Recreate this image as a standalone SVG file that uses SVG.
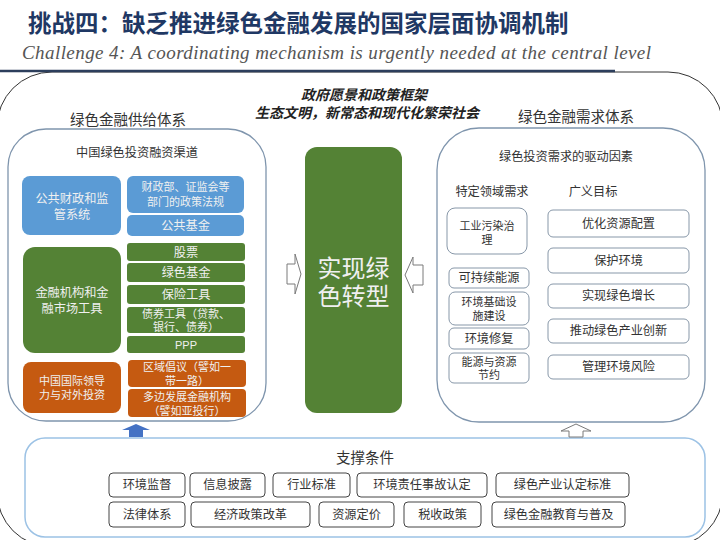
<svg xmlns="http://www.w3.org/2000/svg" width="720" height="540" viewBox="0 0 720 540">
<style>
text{font-family:"Liberation Sans","Noto Sans CJK SC",sans-serif;text-anchor:middle}
.title{font-size:23.5px;font-weight:bold;fill:#1f3864;text-anchor:start}
.sub{font-family:"Liberation Serif",serif;font-style:italic;font-size:19px;fill:#555;text-anchor:start}
.hdr{font-size:14.5px;fill:#333}
.vis{font-size:14px;font-weight:bold;font-style:italic;fill:#222}
.t{font-size:12.2px;fill:#333}
.w{font-size:12.2px;fill:#f0f0f0}
.t2{font-size:11px;fill:#333}
.w2{font-size:11px;fill:#f0f0f0}
.big{font-size:24px;fill:#f0f0f0}
.cont{fill:#fff;stroke:#7f95ad;stroke-width:1.3}
.blue{fill:#5b9bd5}
.green{fill:#548235}
.orange{fill:#c55a11}
.wb{fill:#fff;stroke:#8797a8;stroke-width:1}
.bb{fill:#fff;stroke:#444;stroke-width:1}
.harrow{fill:#fff;stroke:#7a7a7a;stroke-width:1}
</style>

<rect x="-3" y="72" width="726" height="475" rx="55" fill="none" stroke="#333" stroke-width="1"/>
<line x1="0" y1="71" x2="615" y2="71" stroke="#2c3e5c" stroke-width="2.5"/>

<text class="title" x="28" y="32">挑战四：缺乏推进绿色金融发展的国家层面协调机制</text>
<text class="sub" x="22" y="59" textLength="629">Challenge 4: A coordinating mechanism is urgently needed at the central level</text>

<g id="vision">
<text class="vis" x="364" y="100">政府愿景和政策框架</text>
<text class="vis" x="367" y="118">生态文明，新常态和现代化繁荣社会</text>
</g>

<g id="supply">
<text class="hdr" x="128" y="125">绿色金融供给体系</text>
<rect class="cont" x="8" y="129" width="258" height="292" rx="38"/>
<text class="t" x="137" y="157">中国绿色投资融资渠道</text>
<g id="public-finance">
<rect class="blue" x="22" y="176" width="99" height="59" rx="8"/>
<text class="w" x="72" y="202.5">公共财政和监</text>
<text class="w" x="72" y="218.5">管系统</text>
</g>
<g id="policy">
<rect class="blue" x="127" y="176" width="117" height="37" rx="6"/>
<text class="w2" x="185.5" y="191">财政部、证监会等</text>
<text class="w2" x="185.5" y="206">部门的政策法规</text>
</g>
<g id="public-fund">
<rect class="blue" x="127" y="215" width="117" height="21" rx="5"/>
<text class="w" x="185.5" y="230">公共基金</text>
</g>
<g id="fin-inst">
<rect class="green" x="23" y="247" width="98" height="106" rx="12"/>
<text class="w" x="72" y="297">金融机构和金</text>
<text class="w" x="72" y="313">融市场工具</text>
</g>
<g id="stock">
<rect class="green" x="127" y="243" width="118" height="18" rx="3"/>
<text class="w" x="186" y="256.5">股票</text>
</g>
<g id="green-fund">
<rect class="green" x="127" y="263" width="118" height="19" rx="3"/>
<text class="w" x="186" y="277">绿色基金</text>
</g>
<g id="insurance">
<rect class="green" x="127" y="285" width="118" height="19" rx="3"/>
<text class="w" x="186" y="299">保险工具</text>
</g>
<g id="bond">
<rect class="green" x="127" y="307" width="118" height="26" rx="3"/>
<text class="w2" x="186" y="318">债券工具（贷款、</text>
<text class="w2" x="186" y="331">银行、债券）</text>
</g>
<g id="ppp">
<rect class="green" x="127" y="336" width="118" height="17" rx="3"/>
<text class="w" x="186" y="349" style="font-size:11px">PPP</text>
</g>
<g id="intl">
<rect class="orange" x="23" y="362" width="98" height="51" rx="8"/>
<text class="w2" x="72" y="385">中国国际领导</text>
<text class="w2" x="72" y="399">力与对外投资</text>
</g>
<g id="regional">
<rect class="orange" x="128" y="360" width="118" height="27" rx="4"/>
<text class="w2" x="187" y="371">区域倡议（譬如一</text>
<text class="w2" x="187" y="385">带一路）</text>
</g>
<g id="mdb">
<rect class="orange" x="128" y="389" width="118" height="28" rx="4"/>
<text class="w2" x="187" y="401">多边发展金融机构</text>
<text class="w2" x="187" y="415">（譬如亚投行）</text>
</g>
</g>

<g id="transition">
<rect class="green" x="305" y="147" width="97" height="266" rx="12"/>
<text class="big" x="353.5" y="277">实现绿</text>
<text class="big" x="353.5" y="305">色转型</text>
</g>

<g id="demand">
<text class="hdr" x="576" y="122">绿色金融需求体系</text>
<rect class="cont" x="437" y="128" width="268" height="294" rx="42"/>
<text class="t" x="566" y="161">绿色投资需求的驱动因素</text>
<text class="t" x="492" y="196">特定领域需求</text>
<text class="t" x="593" y="196">广义目标</text>
<g id="industrial">
<rect class="wb" x="447" y="208" width="80" height="46" rx="8"/>
<text class="t2" x="487" y="230">工业污染治</text>
<text class="t2" x="487" y="244">理</text>
</g>
<g id="energy">
<rect class="wb" x="449" y="268" width="80" height="20" rx="5"/>
<text class="t" x="489" y="282">可持续能源</text>
</g>
<g id="infra">
<rect class="wb" x="449" y="292" width="80" height="33" rx="6"/>
<text class="t2" x="489" y="306">环境基础设</text>
<text class="t2" x="489" y="320">施建设</text>
</g>
<g id="restore">
<rect class="wb" x="449" y="328" width="80" height="21" rx="5"/>
<text class="t" x="489" y="342.5">环境修复</text>
</g>
<g id="saving">
<rect class="wb" x="449" y="353" width="80" height="30" rx="5"/>
<text class="t2" x="489" y="366">能源与资源</text>
<text class="t2" x="489" y="379">节约</text>
</g>
<g id="allocation">
<rect class="wb" x="548" y="210" width="141" height="27" rx="5"/>
<text class="t" x="618.5" y="227.5">优化资源配置</text>
</g>
<g id="protect">
<rect class="wb" x="548" y="248" width="141" height="25" rx="5"/>
<text class="t" x="618.5" y="264.5">保护环境</text>
</g>
<g id="growth">
<rect class="wb" x="548" y="284" width="141" height="24" rx="5"/>
<text class="t" x="618.5" y="300">实现绿色增长</text>
</g>
<g id="innovation">
<rect class="wb" x="548" y="319" width="141" height="24" rx="5"/>
<text class="t" x="618.5" y="335">推动绿色产业创新</text>
</g>
<g id="risk">
<rect class="wb" x="548" y="355" width="141" height="24" rx="5"/>
<text class="t" x="618.5" y="371">管理环境风险</text>
</g>
</g>

<g id="support">
<rect x="25" y="438" width="680" height="99" rx="20" fill="#fff" stroke="#9cc2e5" stroke-width="1.5"/>
<text class="hdr" x="365" y="463">支撑条件</text>
<g id="s1"><rect class="bb" x="109" y="473" width="76" height="24" rx="4"/><text class="t" x="147" y="489">环境监督</text></g>
<g id="s2"><rect class="bb" x="190" y="473" width="75" height="24" rx="4"/><text class="t" x="227.5" y="489">信息披露</text></g>
<g id="s3"><rect class="bb" x="273" y="473" width="77" height="24" rx="4"/><text class="t" x="311.5" y="489">行业标准</text></g>
<g id="s4"><rect class="bb" x="357" y="473" width="130" height="24" rx="4"/><text class="t" x="422" y="489">环境责任事故认定</text></g>
<g id="s5"><rect class="bb" x="496" y="473" width="133" height="24" rx="4"/><text class="t" x="562.5" y="489">绿色产业认定标准</text></g>
<g id="s6"><rect class="bb" x="109" y="502" width="76" height="25" rx="4"/><text class="t" x="147" y="518.5">法律体系</text></g>
<g id="s7"><rect class="bb" x="191" y="502" width="119" height="25" rx="4"/><text class="t" x="250.5" y="518.5">经济政策改革</text></g>
<g id="s8"><rect class="bb" x="319" y="502" width="75" height="25" rx="4"/><text class="t" x="356.5" y="518.5">资源定价</text></g>
<g id="s9"><rect class="bb" x="404" y="502" width="77" height="25" rx="4"/><text class="t" x="442.5" y="518.5">税收政策</text></g>
<g id="s10"><rect class="bb" x="492" y="502" width="133" height="25" rx="4"/><text class="t" x="558.5" y="518.5">绿色金融教育与普及</text></g>
</g>

<g id="connectors">
<path class="harrow" d="M287,264 L295,264 L295,254 L301,274 L295,294 L295,284 L287,284 Z"/>
<path class="harrow" d="M423,265 L413,265 L413,257 L405,275 L413,293 L413,285 L423,285 Z"/>
<path d="M129,437 L129,430 L122,430 L136,424 L150,430 L143,430 L143,437 Z" fill="#4472c4"/>
<path class="harrow" d="M569,437 L569,431 L561,431 L576,424 L591,431 L583,431 L583,437 Z"/>
</g>
</svg>
